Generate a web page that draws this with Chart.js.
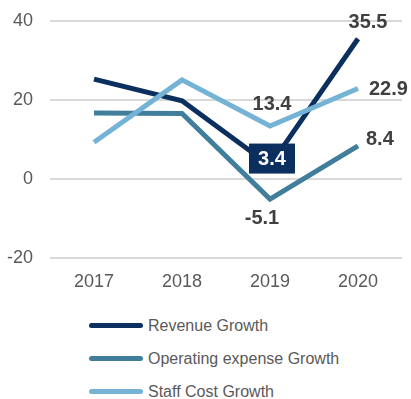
<!DOCTYPE html>
<html>
<head>
<meta charset="utf-8">
<script src="https://cdn.jsdelivr.net/npm/chart.js@4/dist/chart.umd.min.js"></script>
<style>
  html, body { margin: 0; padding: 0; background: #fff; }
  #wrap { position: relative; width: 411px; height: 399px; font-family: "Liberation Sans", Arial, sans-serif; }
  #growth-chart { position: absolute; left: 0; top: 0; }
  #legend { position: absolute; left: 89px; top: 309px; margin: 0; padding: 0; list-style: none; }
  #legend li { display: flex; align-items: center; height: 33px; font-size: 16px; color: #595959; }
  #legend .swatch { display: inline-block; width: 54px; height: 5px; border-radius: 3px; margin-right: 5px; }
</style>
</head>
<body>
<div id="wrap">
  <canvas id="growth-chart" width="411" height="300"></canvas>
  <ul id="legend"></ul>
</div>
<script>
const years = ['2017', '2018', '2019', '2020']
const revenueGrowth = [25.3, 19.8, 3.4, 35.5]
const opexGrowth = [16.7, 16.6, -5.1, 8.4]
const staffCostGrowth = [9.3, 25.1, 13.4, 22.9]
const yTicks = [-20, 0, 20, 40]

// value labels: [dataset index, point index, dx, dy, align, boxed]
const valueLabels = [
  [0, 3, 10, -17, 'center', false],
  [0, 2, 2, -7, 'center', true],
  [1, 2, -8, 18, 'center', false],
  [1, 3, 8, -7, 'left', false],
  [2, 2, 2, -23, 'center', false],
  [2, 3, 11, 0, 'left', false]
]

const valueLabelPlugin = {
  id: 'valueLabels',
  afterDatasetsDraw(chart) {
    const ctx = chart.ctx
    ctx.save()
    ctx.font = 'bold 20px "Liberation Sans", Arial, sans-serif'
    ctx.textBaseline = 'middle'
    valueLabels.forEach(([ds, i, dx, dy, align, boxed]) => {
      const point = chart.getDatasetMeta(ds).data[i]
      const value = chart.data.datasets[ds].data[i]
      const text = value.toFixed(1)
      const x = point.x + dx
      const y = point.y + dy
      ctx.textAlign = align
      if (boxed) {
        ctx.fillStyle = '#0b2f5e'
        ctx.fillRect(x - 23, y - 15, 46, 30)
        ctx.fillStyle = '#ffffff'
      } else {
        ctx.fillStyle = '#404040'
      }
      ctx.fillText(text, x, y + 1)
    })
    ctx.restore()
  }
}

const chart = new Chart(document.querySelector('#growth-chart'), {
  type: 'line',
  data: {
    labels: years,
    datasets: [
      { label: 'Revenue Growth', data: revenueGrowth, borderColor: '#0b2f5e', order: 2 },
      { label: 'Operating expense Growth', data: opexGrowth, borderColor: '#417e9c', order: 3 },
      { label: 'Staff Cost Growth', data: staffCostGrowth, borderColor: '#74b3d5', order: 1 }
    ]
  },
  options: {
    responsive: false,
    animation: false,
    layout: { padding: { top: 21, right: 9, left: 0, bottom: 0 } },
    elements: {
      line: { borderWidth: 5, tension: 0, fill: false },
      point: { radius: 0, hoverRadius: 0 }
    },
    plugins: {
      legend: { display: false },
      tooltip: { enabled: false }
    },
    scales: {
      x: {
        offset: true,
        grid: { display: false },
        border: { display: false },
        ticks: { color: '#595959', font: { size: 18, family: '"Liberation Sans", Arial' }, padding: 5 },
        afterFit(scale) { scale.height = 42 }
      },
      y: {
        min: -20,
        max: 40,
        afterBuildTicks(scale) { scale.ticks = yTicks.map(v => ({ value: v })) },
        grid: { color: '#d9d9d9', lineWidth: 2, drawTicks: false },
        border: { display: false },
        ticks: { color: '#595959', font: { size: 18, family: '"Liberation Sans", Arial' }, padding: 17 },
        afterFit(scale) {
          // tick padding would otherwise push the plot area down
          scale.width = 50
          scale.paddingTop = 0
          scale.paddingBottom = 0
        }
      }
    }
  },
  plugins: [valueLabelPlugin]
})

// vertical legend under the chart, built from the chart's own datasets
const legend = document.querySelector('#legend')
chart.data.datasets.forEach(ds => {
  const li = document.createElement('li')
  const swatch = document.createElement('span')
  swatch.className = 'swatch'
  swatch.style.background = ds.borderColor
  li.appendChild(swatch)
  li.appendChild(document.createTextNode(ds.label))
  legend.appendChild(li)
})
</script>
</body>
</html>
